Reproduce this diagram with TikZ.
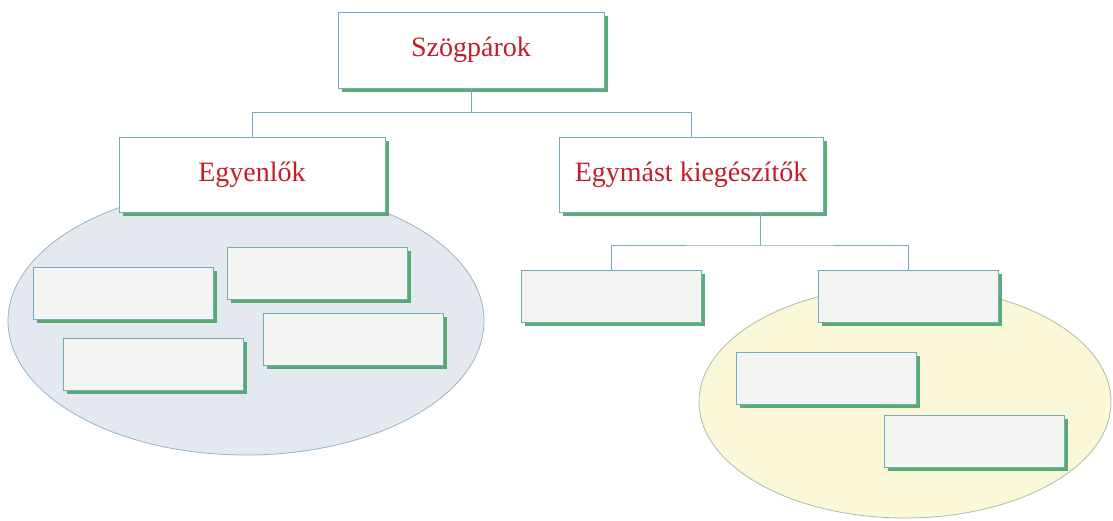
\documentclass[tikz,border=0pt]{standalone}
\usepackage{fontspec}
\setmainfont{Liberation Serif}
\usepackage{tikz}
\usetikzlibrary{shadows}
\usetikzlibrary{calc}
\usepackage{xcolor}

\definecolor{boxline}{RGB}{120,170,190}
\definecolor{shadowgreen}{RGB}{70,165,100}
\definecolor{titlered}{RGB}{196,30,40}
\definecolor{leaffill}{RGB}{242,245,242}
\definecolor{bluefill}{RGB}{227,233,238}
\definecolor{blueline}{RGB}{150,180,200}
\definecolor{yellowfill}{RGB}{251,248,218}
\definecolor{yellowline}{RGB}{170,190,165}

\tikzset{
    box/.style={draw=boxline, line width=0.8pt, fill=white, inner sep=0pt,
        drop shadow={shadow xshift=3.5pt, shadow yshift=-3.5pt, fill=shadowgreen, opacity=0.9},
        text=titlered, font=\fontsize{28}{32}\selectfont},
    leaf/.style={box, fill=leaffill, minimum width=180pt, minimum height=52pt},
    link/.style={draw=boxline, line width=0.8pt}
}

\begin{document}
\begin{tikzpicture}[x=1pt, y=-1pt]
    \useasboundingbox (0,0) rectangle (1113,520);
    % groups
    \draw[blueline, fill=bluefill, line width=0.8pt] (246,321) ellipse [x radius=238, y radius=134];
    \draw[yellowline, fill=yellowfill, line width=0.8pt] (905,402) ellipse [x radius=206, y radius=116];
    % tree
    \node[box, minimum width=266pt, minimum height=76pt] (top) at (471,50) {Szögpárok};
    \node[box, minimum width=266pt, minimum height=75pt] (eq) at (252,174.5) {Egyenlők};
    \node[box, minimum width=264pt, minimum height=75pt] (comp) at (691,174.5) {Egymást kiegészítők};
    \foreach \n/\x/\y in {e1/123.5/293, e2/317/273.5, e3/153/364, e4/353/339.5,
                          c1/611/296.5, c2/908/296.5, c3/826/378.5, c4/974/441.5}
    {
        \node[leaf] (\n) at (\x,\y) {};
    }
    \coordinate (fork) at (760,245);
    \draw[link] (eq.north) |- ($(top.south)+(0,24)$) -| (comp.north);
    \draw[link] (top.south) -- ++(0,24);
    \draw[link] (comp.south -| fork) -- (fork);
    \draw[link] (c1.north) |- (fork) -| (c2.north);
\end{tikzpicture}
\end{document}
